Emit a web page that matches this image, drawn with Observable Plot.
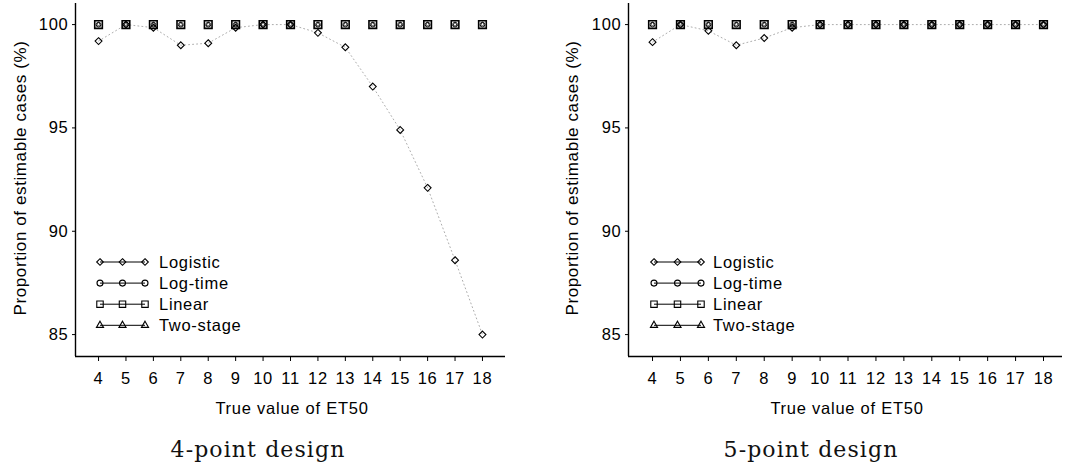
<!DOCTYPE html>
<html><head><meta charset="utf-8">
<script src="https://cdn.jsdelivr.net/npm/d3@7"></script>
<script src="https://cdn.jsdelivr.net/npm/@observablehq/plot@0.6"></script>
<style>
body{margin:0;background:#fff;}
#wrap{position:relative;width:1073px;height:469px;overflow:hidden;background:#fff;}
.panel{position:absolute;top:0;}
</style></head>
<body><div id="wrap"></div>
<script>
// ---- data ----
const et50 = [4,5,6,7,8,9,10,11,12,13,14,15,16,17,18];
const yTicks = [85,90,95,100];
const seriesNames = ["Logistic","Log-time","Linear","Two-stage"];
const seriesSymbols = ["diamond2","circle","square","triangle2"];
const captions = ["4-point design","5-point design"];
const xTitle = "True value of ET50";
const yTitle = "Proportion of estimable cases (%)";

// 4-point design
const logistic4 = [99.2,100,99.85,99.0,99.1,99.85,100,100,99.6,98.9,97.0,94.9,92.1,88.6,85.0];
const logtime4  = [100,100,100,100,100,100,100,100,100,100,100,100,100,100,100];
const linear4   = [100,100,100,100,100,100,100,100,100,100,100,100,100,100,100];
const twostage4 = [100,100,100,100,100,100,100,100,100,100,100,100,100,100,100];
// 5-point design
const logistic5 = [99.15,100,99.7,99.0,99.35,99.85,100,100,100,100,100,100,100,100,100];
const logtime5  = [100,100,100,100,100,100,100,100,100,100,100,100,100,100,100];
const linear5   = [100,100,100,100,100,100,100,100,100,100,100,100,100,100,100];
const twostage5 = [100,100,100,100,100,100,100,100,100,100,100,100,100,100,100];

// ---- layout ----
const yDom = [83.94, 101.02];
const layout = [
  {left:0,   width:540, marginLeft:75, marginRight:35, xDom:[3.16,18.84],
   yTitleX:20, xTitleX:292, captionX:258, legX0:98, legLen:49, legTextX:159},
  {left:540, width:533, marginLeft:88, marginRight:11, xDom:[3.14,18.68],
   yTitleX:572, xTitleX:847, captionX:811, legX0:652, legLen:51, legTextX:713}
];
const symStyle = {
  "diamond2":{r:3.1, sw:1.1},
  "circle":{r:2.4, sw:0.8},
  "square":{r:4.3, sw:1.6},
  "triangle2":{r:2.2, sw:0.8}
};

function rowsFor(vals){
  return seriesNames.flatMap((s,i)=>vals[i].map((v,j)=>({x:et50[j], v, s})));
}
const panelsData = [
  rowsFor([logistic4, logtime4, linear4, twostage4]),
  rowsFor([logistic5, logtime5, linear5, twostage5])
];

const wrap = document.getElementById("wrap");
const drawOrder = ["Linear","Two-stage","Log-time","Logistic"];

panelsData.forEach((rows, p) => {
  const L = layout[p];
  const marks = [
    Plot.ruleX([L.xDom[0]], {stroke:"#000", strokeWidth:1.4}),
    Plot.ruleY([yDom[0]], {stroke:"#000", strokeWidth:1.4}),
    Plot.line(rows.filter(d=>d.s==="Logistic"), {x:"x", y:"v", stroke:"#777", strokeWidth:1, strokeOpacity:0.6, strokeDasharray:"1,3"})
  ];
  drawOrder.forEach(s => {
    const sym = seriesSymbols[seriesNames.indexOf(s)];
    const st = symStyle[sym];
    marks.push(Plot.dot(rows.filter(d=>d.s===s), {x:"x", y:"v", symbol:()=>sym, r:st.r, stroke:"#000", strokeWidth:st.sw, fill:"none"}));
  });
  const chart = Plot.plot({
    width: L.width, height: 400,
    marginLeft: L.marginLeft, marginRight: L.marginRight, marginTop: 3, marginBottom: 44,
    x: {type:"linear", domain: L.xDom, ticks: et50, tickFormat: d=>String(d), tickSize:5, tickPadding:11, label:null},
    y: {domain: yDom, ticks: yTicks, tickFormat: d=>String(d), tickSize:3, tickPadding:4, label:null},
    symbol: {type:"identity"},
    style: {fontFamily:"'Liberation Sans', Arial, sans-serif", fontSize:"16.5px", letterSpacing:"0.7px", color:"#000", background:"transparent", overflow:"visible"},
    marks
  });
  const div = document.createElement("div");
  div.className = "panel";
  div.style.left = L.left + "px";
  div.appendChild(chart);
  wrap.appendChild(div);
});

// ---- overlay: titles, captions, legends ----
const ov = d3.select(wrap).append("svg")
  .attr("width",1073).attr("height",469)
  .style("position","absolute").style("left","0px").style("top","0px")
  .style("pointer-events","none");

layout.forEach((L, p) => {
  ov.append("text")
    .attr("transform", `translate(${L.yTitleX},178) rotate(-90)`)
    .attr("text-anchor","middle").attr("dy","0.35em")
    .style("font-family","'Liberation Sans', Arial, sans-serif")
    .style("font-size","17px").style("letter-spacing","0.6px")
    .text(yTitle);
  ov.append("text")
    .attr("x", L.xTitleX).attr("y", 414)
    .attr("text-anchor","middle")
    .style("font-family","'Liberation Sans', Arial, sans-serif")
    .style("font-size","16.5px").style("letter-spacing","0.75px")
    .text(xTitle);
  ov.append("text")
    .attr("x", L.captionX).attr("y", 457)
    .attr("text-anchor","middle")
    .style("font-family","'DejaVu Serif', serif")
    .style("font-size","22px").style("letter-spacing","1.1px")
    .style("fill","#111")
    .text(captions[p]);

  const lg = ov.append("g");
  seriesNames.forEach((name, i) => {
    const y = 262 + i*21.1;
    const sym = seriesSymbols[i];
    const d3sym = {diamond2:d3.symbolDiamond2, circle:d3.symbolCircle, square:d3.symbolSquare2, triangle2:d3.symbolTriangle2}[sym];
    const rr = sym==="square" ? 4.1 : (sym==="triangle2" ? 3.4 : 3.0);
    lg.append("line").attr("x1",L.legX0+2).attr("x2",L.legX0+L.legLen-2).attr("y1",y).attr("y2",y)
      .attr("stroke","#000").attr("stroke-width",1);
    [0,0.5,1].forEach(f => {
      lg.append("path")
        .attr("transform", `translate(${L.legX0+2+f*(L.legLen-4)},${y})`)
        .attr("d", d3.symbol(d3sym, Math.PI*rr*rr)())
        .attr("fill","none").attr("stroke","#000").attr("stroke-width",1.1);
    });
    lg.append("text").attr("x", L.legTextX).attr("y", y).attr("dy","0.36em")
      .style("font-family","'Liberation Sans', Arial, sans-serif")
      .style("font-size","16.5px").style("letter-spacing","0.7px")
      .text(name);
  });
});
</script></body></html>
